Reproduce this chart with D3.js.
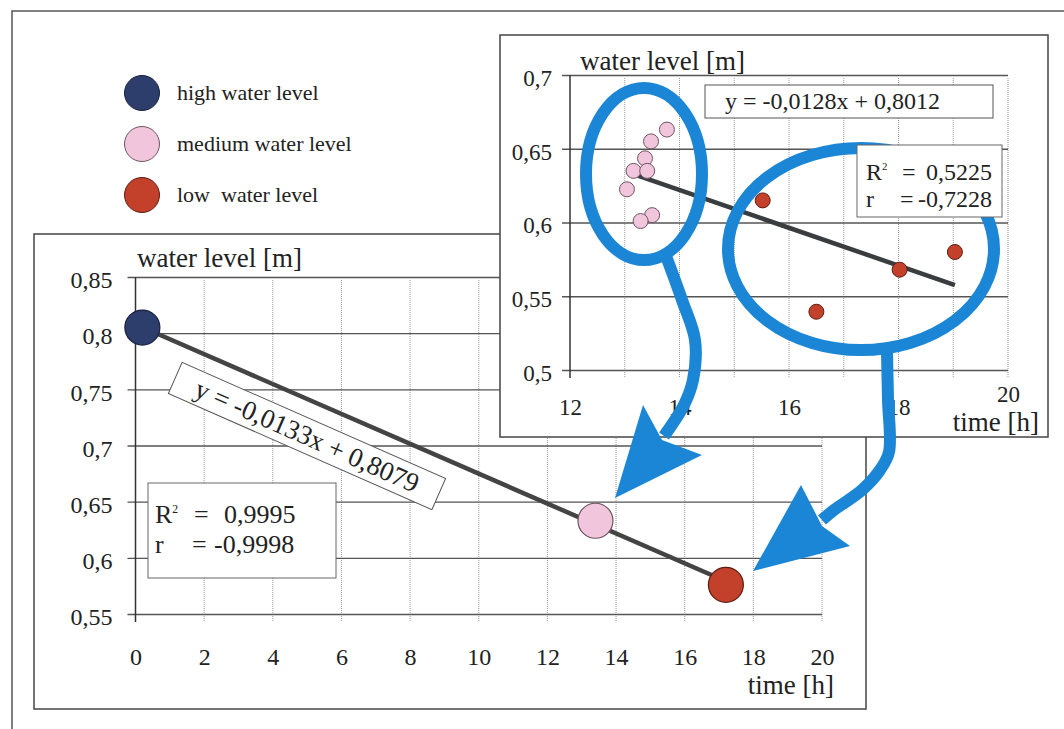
<!DOCTYPE html>
<html>
<head>
<meta charset="utf-8">
<script src="https://cdn.jsdelivr.net/npm/d3@7"></script>
<style>
  body { margin: 0; background: #fff; }
  text { font-family: "Liberation Serif", "Times New Roman", Times, serif; fill: #222; }
</style>
</head>
<body>
<div id="chart"></div>
<script>
// ---- data ----
const levelNames = ["high", "medium", "low"];
const legendLabels = ["high water level", "medium water level", "low  water level"];

// main chart: one averaged point per water level class
const mainTime = [0.2, 13.4, 17.2];
const mainLevel = [0.805, 0.633, 0.576];
const mainXTicks = [0, 2, 4, 6, 8, 10, 12, 14, 16, 18, 20];
const mainYTicks = [0.55, 0.6, 0.65, 0.7, 0.75, 0.8, 0.85];
const mainFit = [-0.0133, 0.8079];
const mainStats = ["0,9995", "-0,9998"];

// inset chart: individual measurements
const medTime = [13.77, 13.48, 13.37, 13.16, 13.41, 13.04, 13.5, 13.29];
const medLevel = [0.663, 0.655, 0.6435, 0.635, 0.635, 0.6225, 0.605, 0.601];
const lowTime = [15.52, 16.5, 18.02, 19.03];
const lowLevel = [0.615, 0.5395, 0.568, 0.58];
const insetXTicks = [12, 14, 16, 18, 20];
const insetXGrid = [13, 14, 15, 16, 17, 18, 19, 20];
const insetYTicks = [0.5, 0.55, 0.6, 0.65, 0.7];
const insetFit = [-0.0128, 0.8012];
const insetStats = ["0,5225", "-0,7228"];

const fill = { high: "#2d3d6c", medium: "#f1c5dc", low: "#c3402b" };
const edge = { high: "#18203d", medium: "#6e5561", low: "#5e1d14" };
const blue = "#1c86d6";
const serif = "'Liberation Serif', 'Times New Roman', Times, serif";

const fmt = d3.formatLocale({ decimal: ",", thousands: ".", grouping: [3], currency: ["", ""], minus: "-" }).format("~f");
const eqText = (f) => "y = " + fmt(f[0]) + "x + " + fmt(f[1]);

const svg = d3.select("#chart").append("svg")
    .attr("width", 1064)
    .attr("height", 729);

// outer frame of the page
svg.append("path")
    .attr("d", "M12,729 V11 H1064")
    .attr("fill", "none")
    .attr("stroke", "#555")
    .attr("stroke-width", 1.5);

// legend
const legend = svg.append("g").attr("id", "legend");
legend.selectAll("circle")
    .data(levelNames)
    .enter()
        .append("circle")
        .attr("cx", 142)
        .attr("cy", (d, i) => 93 + i * 51)
        .attr("r", 17.5)
        .attr("fill", (d) => fill[d])
        .attr("stroke", (d) => edge[d]);
legend.selectAll("text")
    .data(legendLabels)
    .enter()
        .append("text")
        .attr("x", 177)
        .attr("y", (d, i) => 100 + i * 51)
        .style("font-size", "22px")
        .style("white-space", "pre")
        .text((d) => d);

function drawChart(cfg) {
    const g = svg.append("g");
    g.append("rect")
        .attr("x", cfg.box[0]).attr("y", cfg.box[1])
        .attr("width", cfg.box[2] - cfg.box[0])
        .attr("height", cfg.box[3] - cfg.box[1])
        .attr("fill", "#fff")
        .attr("stroke", "#444")
        .attr("stroke-width", 1.5);

    const x = d3.scaleLinear().domain(cfg.xDomain).range(cfg.xRange);
    const y = d3.scaleLinear().domain(cfg.yDomain).range(cfg.yRange);

    // dotted vertical grid
    g.append("g").selectAll("line")
        .data(cfg.xGrid)
        .enter()
            .append("line")
            .attr("x1", (d) => x(d)).attr("x2", (d) => x(d))
            .attr("y1", cfg.yRange[1] + 3).attr("y2", cfg.yRange[0] + 7)
            .attr("stroke", "#999")
            .attr("stroke-width", 1)
            .attr("stroke-dasharray", "1,1");

    // horizontal grid + y labels via axis
    const yAxis = d3.axisLeft(y)
        .tickValues(cfg.yTicks)
        .tickSizeInner(-(cfg.xRange[1] - cfg.xRange[0] + 8))
        .tickSizeOuter(0)
        .tickPadding(cfg.yPad)
        .tickFormat(fmt);
    const ya = g.append("g")
        .attr("transform", "translate(" + (cfg.xRange[0] - 8) + ",0)")
        .call(yAxis)
        .attr("font-family", serif)
        .attr("font-size", cfg.tickSize);
    ya.select(".domain").remove();
    ya.selectAll(".tick line").attr("stroke", "#555").attr("stroke-width", 1.3);
    ya.selectAll(".tick text")
        .attr("dy", "0.45em")
        .attr("fill", "#222");

    // y axis line
    g.append("line")
        .attr("x1", cfg.xRange[0]).attr("x2", cfg.xRange[0])
        .attr("y1", cfg.yRange[1]).attr("y2", cfg.yRange[0] + 8)
        .attr("stroke", "#333")
        .attr("stroke-width", 1.5);

    // x labels via axis
    const xAxis = d3.axisBottom(x)
        .tickValues(cfg.xTicks)
        .tickSize(0)
        .tickPadding(cfg.xPad)
        .tickFormat(fmt);
    const xa = g.append("g")
        .attr("transform", "translate(0," + cfg.yRange[0] + ")")
        .call(xAxis)
        .attr("font-family", serif)
        .attr("font-size", cfg.tickSize);
    xa.select(".domain").remove();
    xa.selectAll(".tick text").attr("fill", "#222");
    if (cfg.raiseLast) {
        // last label sits just above the axis title, as in the original
        xa.selectAll(".tick text").filter((d) => d === cfg.xTicks[cfg.xTicks.length - 1])
            .attr("dy", "0.12em");
    }

    // axis titles
    g.append("text")
        .attr("x", cfg.yTitle[0]).attr("y", cfg.yTitle[1])
        .style("font-size", "27px")
        .text("water level [m]");
    g.append("text")
        .attr("x", cfg.xTitle[0]).attr("y", cfg.xTitle[1])
        .attr("text-anchor", "end")
        .style("font-size", "27px")
        .text("time [h]");

    return { g, x, y };
}

function statsBox(g, b, vals, fs, cols, lines) {
    g.append("rect")
        .attr("x", b[0]).attr("y", b[1])
        .attr("width", b[2] - b[0]).attr("height", b[3] - b[1])
        .attr("fill", "#fff").attr("stroke", "#666");
    const t1 = g.append("text").attr("y", lines[0]).style("font-size", fs + "px");
    t1.append("tspan").attr("x", cols[0]).text("R");
    t1.append("tspan").attr("dy", -fs * 0.4).style("font-size", (fs * 0.45) + "px").text("2");
    t1.append("tspan").attr("x", cols[1]).attr("dy", fs * 0.4).text("=");
    t1.append("tspan").attr("x", cols[2]).text(vals[0]);
    const t2 = g.append("text").attr("y", lines[1]).style("font-size", fs + "px");
    t2.append("tspan").attr("x", cols[0]).text("r");
    t2.append("tspan").attr("x", cols[1] - 2).text("=");
    t2.append("tspan").attr("x", cols[3]).text(vals[1]);
}

// ---- main chart ----
const main = drawChart({
    box: [34, 234, 866, 709],
    xDomain: [0, 20], xRange: [135.5, 822],
    yDomain: [0.55, 0.85], yRange: [614, 277],
    xGrid: mainXTicks.slice(1), xTicks: mainXTicks, yTicks: mainYTicks,
    yPad: 15, xPad: 34, tickSize: 24,
    yTitle: [137, 267], xTitle: [834, 694]
});

const mainLine = d3.line().x((d) => main.x(d)).y((d) => main.y(mainFit[0] * d + mainFit[1]));
main.g.append("path")
    .attr("d", mainLine(d3.extent(mainTime)))
    .attr("stroke", "#444")
    .attr("stroke-width", 4.5)
    .attr("fill", "none");

main.g.selectAll(".pt")
    .data(mainTime)
    .enter()
        .append("circle")
        .attr("cx", (d) => main.x(d))
        .attr("cy", (d, i) => main.y(mainLevel[i]))
        .attr("r", 17.5)
        .attr("fill", (d, i) => fill[levelNames[i]])
        .attr("stroke", (d, i) => edge[levelNames[i]])
        .attr("stroke-width", 1.2);

// rotated equation label
const eqG = main.g.append("g")
    .attr("transform", "translate(307,436) rotate(23.8)");
eqG.append("rect")
    .attr("x", -144).attr("y", -17).attr("width", 288).attr("height", 34)
    .attr("fill", "#fff").attr("stroke", "#555");
eqG.append("text")
    .attr("x", 0).attr("y", 9)
    .attr("text-anchor", "middle")
    .style("font-size", "27px")
    .text(eqText(mainFit));

statsBox(main.g, [148, 483, 336, 578], mainStats, 26, [155, 194, 224, 214], [523, 553]);

// ---- inset chart ----
const inset = drawChart({
    box: [500, 35, 1048, 437],
    xDomain: [12, 20], xRange: [570, 1008],
    yDomain: [0.5, 0.7], yRange: [370, 75],
    xGrid: insetXGrid, xTicks: insetXTicks, yTicks: insetYTicks,
    yPad: 10, xPad: 29, tickSize: 23, raiseLast: true,
    yTitle: [580, 70], xTitle: [1039, 431]
});

const insetLine = d3.line().x((d) => inset.x(d)).y((d) => inset.y(insetFit[0] * d + insetFit[1]));
inset.g.append("path")
    .attr("d", insetLine(d3.extent(medTime.concat(lowTime))))
    .attr("stroke", "#3a3d40")
    .attr("stroke-width", 4.5)
    .attr("fill", "none");

inset.g.append("g").selectAll("circle")
    .data(medTime)
    .enter()
        .append("circle")
        .attr("cx", (d) => inset.x(d))
        .attr("cy", (d, i) => inset.y(medLevel[i]))
        .attr("r", 7.5)
        .attr("fill", fill.medium)
        .attr("stroke", edge.medium);
inset.g.append("g").selectAll("circle")
    .data(lowTime)
    .enter()
        .append("circle")
        .attr("cx", (d) => inset.x(d))
        .attr("cy", (d, i) => inset.y(lowLevel[i]))
        .attr("r", 7.5)
        .attr("fill", fill.low)
        .attr("stroke", edge.low);

inset.g.append("rect")
    .attr("x", 705).attr("y", 85).attr("width", 288).attr("height", 33)
    .attr("fill", "#fff").attr("stroke", "#555");
inset.g.append("text")
    .attr("x", 725).attr("y", 109)
    .style("font-size", "24px")
    .text(eqText(insetFit));

// ---- blue highlight ellipses and arrows ----
const hl = svg.append("g").attr("id", "highlights");
hl.append("ellipse")
    .attr("cx", 644).attr("cy", 174).attr("rx", 58).attr("ry", 86)
    .attr("fill", "none").attr("stroke", blue).attr("stroke-width", 12);
hl.append("ellipse")
    .attr("cx", 861).attr("cy", 249).attr("rx", 133).attr("ry", 101)
    .attr("fill", "none").attr("stroke", blue).attr("stroke-width", 12);

const shaft = d3.line().curve(d3.curveCatmullRom);
hl.append("path")
    .attr("d", shaft([[666, 256], [682, 300], [695, 340], [693, 380], [684, 405], [664, 436]]))
    .attr("fill", "none").attr("stroke", blue).attr("stroke-width", 12);
hl.append("path")
    .attr("d", "M643,405 L615,498 L702,455 L662,440 Z")
    .attr("fill", blue);
hl.append("path")
    .attr("d", shaft([[887, 352], [888, 400], [889, 452], [880, 470], [862, 490], [834, 510], [822, 520]]))
    .attr("fill", "none").attr("stroke", blue).attr("stroke-width", 12);
hl.append("path")
    .attr("d", "M801,485 L753,571 L850,546 L822,526 Z")
    .attr("fill", blue);

// the inset's statistics box sits on top of the right ellipse
statsBox(svg.append("g"), [857, 145, 1002, 217], insetStats, 24, [866, 902, 926, 918], [180, 207]);
</script>
</body>
</html>
